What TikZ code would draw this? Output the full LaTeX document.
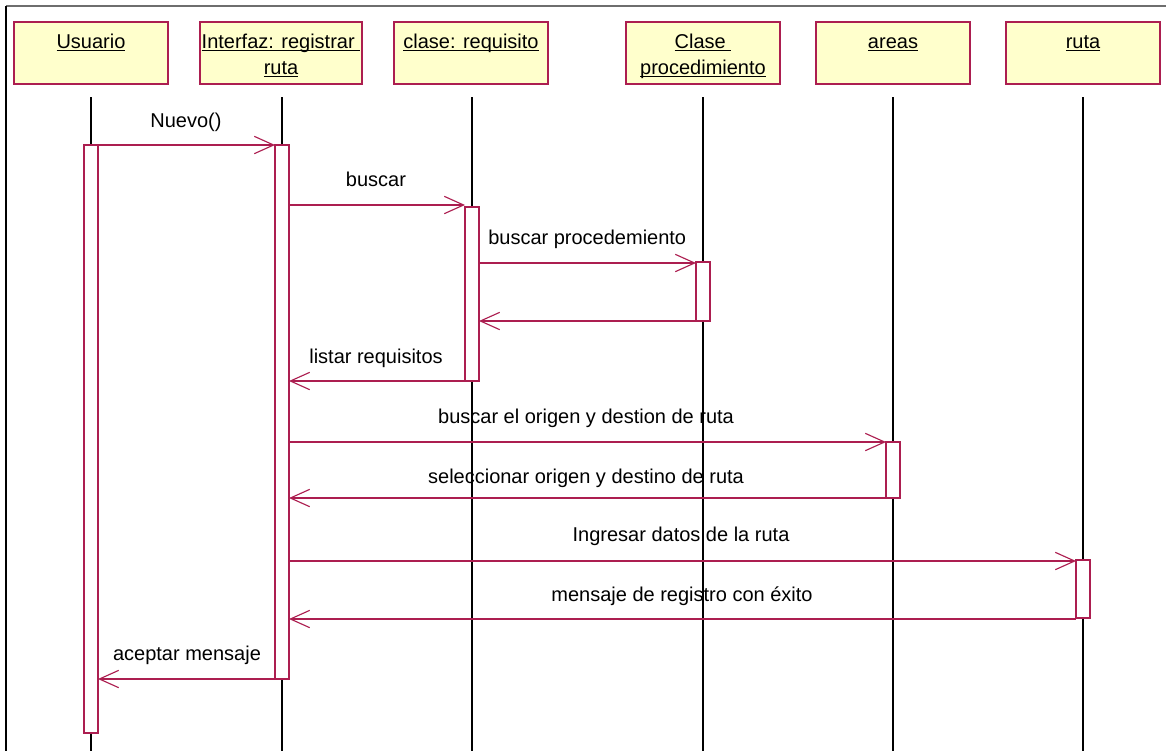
\documentclass[tikz,border=0pt]{standalone}
\usepackage{fontspec}
\setmainfont{Liberation Sans}
\usetikzlibrary{arrows.meta}
\definecolor{umlred}{RGB}{172,30,80}
\definecolor{hdrfill}{RGB}{255,255,204}
\definecolor{framegray}{RGB}{110,110,110}
\newcommand\myul[1]{\setbox0\hbox{#1}\rlap{\rule[-2.3pt]{\wd0}{0.75pt}}\box0}
\tikzset{
  hdr/.style={draw=umlred, fill=hdrfill, line width=0.9pt, inner sep=0pt, outer sep=0pt, minimum height=46.5pt},
  lbl/.style={inner sep=0pt, anchor=base, font=\fontsize{15}{18}\selectfont},
  life/.style={draw=black, line width=1pt},
  actbox/.style={draw=umlred, fill=white, line width=0.9pt, inner sep=0pt, outer sep=0pt, minimum width=10.5pt},
  msg/.style={draw=umlred, line width=0.85pt, -{Straight Barb[length=14.5pt, width=13pt, line width=0.85pt]}},
}
\newcommand\myact[4]{%
  \pgfmathsetmacro\acth{(#4-#3)*0.75}%
  \pgfmathsetmacro\actc{(#3+#4)/2}%
  \node[actbox, minimum height=\acth pt] (#1) at (#2,\actc) {};}
\begin{document}
\begin{tikzpicture}[x=0.75pt, y=-0.75pt]
\useasboundingbox (0,0) rectangle (1166,751);
% frame
\coordinate (fTL) at (6,6);
\coordinate (fTR) at (1166,6);
\coordinate (fBL) at (6,751);
\draw[framegray, line width=1.2pt] (fTL) -- (fTR);
\draw[black, line width=1pt] (fTL) -- (fBL);

% lifelines
\foreach \n/\x in {U/91, I/282, R/472, P/703, A/893, T/1083}{
  \coordinate (\n top) at (\x,97);
  \coordinate (\n bot) at (\x,751);
  \draw[life] (\n top) -- (\n bot);
}

% header boxes
\node[hdr, minimum width=115.5pt] (hU) at (91,53) {};
\node[hdr, minimum width=121.5pt] (hI) at (281,53) {};
\node[hdr, minimum width=115.5pt] (hR) at (471,53) {};
\node[hdr, minimum width=115.5pt] (hP) at (703,53) {};
\node[hdr, minimum width=115.5pt] (hA) at (893,53) {};
\node[hdr, minimum width=115.5pt] (hT) at (1083,53) {};

\node[lbl] (tU) at (91,48) {\myul{Usuario}};
\node[lbl] (tI1) at (281,48) {\myul{Interfaz: registrar\ }};
\node[lbl] (tI2) at (281,74) {\myul{ruta}};
\node[lbl] (tR) at (471,48) {\myul{clase: requisito}};
\node[lbl] (tP1) at (703,48) {\myul{Clase\ }};
\node[lbl] (tP2) at (703,74) {\myul{procedimiento}};
\node[lbl] (tA) at (893,48) {\myul{areas}};
\node[lbl] (tT) at (1083,48) {\myul{ruta}};

% activations
\myact{aU}{91}{145}{733}
\myact{aI}{282}{145}{679}
\myact{aR}{472}{207}{381}
\myact{aP}{703}{262}{321}
\myact{aA}{893}{442}{498}
\myact{aT}{1083}{560}{618}

% message endpoints
\coordinate (m1a) at (98,145);   \coordinate (m1b) at (275,145);
\coordinate (m2a) at (289,205);  \coordinate (m2b) at (465,205);
\coordinate (m3a) at (479,263);  \coordinate (m3b) at (696,263);
\coordinate (m4a) at (696,321);  \coordinate (m4b) at (479,321);
\coordinate (m5a) at (465,381);  \coordinate (m5b) at (289,381);
\coordinate (m6a) at (289,442);  \coordinate (m6b) at (886,442);
\coordinate (m7a) at (886,498);  \coordinate (m7b) at (289,498);
\coordinate (m8a) at (289,561);  \coordinate (m8b) at (1076,561);
\coordinate (m9a) at (1076,619); \coordinate (m9b) at (289,619);
\coordinate (m10a) at (275,679); \coordinate (m10b) at (98,679);

\foreach \i in {1,...,10}{ \draw[msg] (m\i a) -- (m\i b); }

% message labels
\node[lbl] (l1) at (186,127) {Nuevo()};
\node[lbl] (l2) at (376,186) {buscar};
\node[lbl, anchor=base west] (l3) at (488,244) {buscar procedemiento};
\node[lbl] (l5) at (376,363) {listar requisitos};
\node[lbl] (l6) at (586,423) {buscar el origen y destion de ruta};
\node[lbl] (l7) at (586,483) {seleccionar origen y destino de ruta};
\node[lbl] (l8) at (681,541) {Ingresar datos de la ruta};
\node[lbl] (l9) at (682,601) {mensaje de registro con éxito};
\node[lbl] (l10) at (187,660) {aceptar mensaje};
\end{tikzpicture}
\end{document}
